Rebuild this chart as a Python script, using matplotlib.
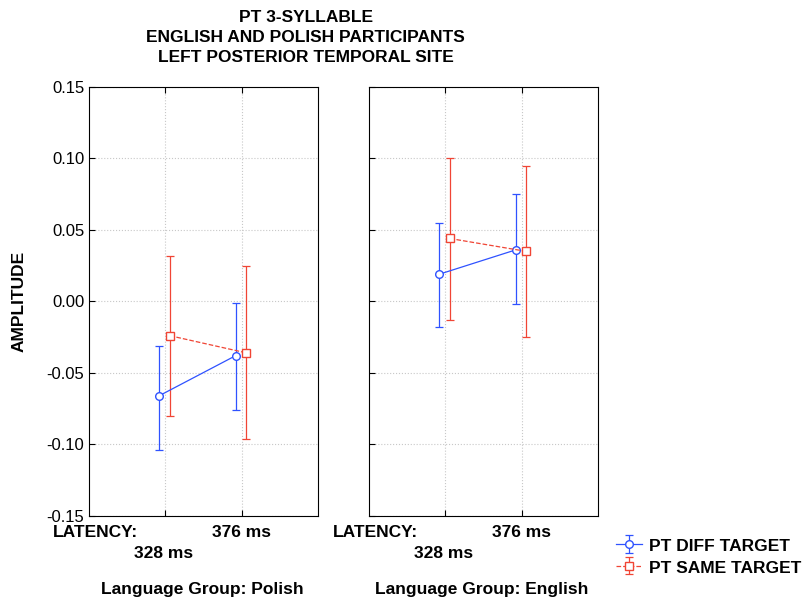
import numpy as np
import matplotlib
matplotlib.use('Agg')
from matplotlib import pyplot as plt

plt.rcParams['font.family'] = ['Liberation Sans', 'DejaVu Sans']

# data
latency = ['328 ms', '376 ms']
groups = ['Polish', 'English']

# mean, lower, upper per group, per latency
diff_mean = {'Polish': [-0.066, -0.038], 'English': [0.019, 0.036]}
diff_low = {'Polish': [-0.104, -0.076], 'English': [-0.018, -0.002]}
diff_high = {'Polish': [-0.031, -0.001], 'English': [0.055, 0.075]}

same_mean = {'Polish': [-0.024, -0.036], 'English': [0.044, 0.035]}
same_low = {'Polish': [-0.080, -0.096], 'English': [-0.013, -0.025]}
same_high = {'Polish': [0.032, 0.025], 'English': [0.100, 0.095]}

yticks = [0.15, 0.10, 0.05, 0.00, -0.05, -0.10, -0.15]

blue = '#2f52ff'
red = '#f04535'
fs = 12.5

fig = plt.figure(figsize=(8.07, 6.04), dpi=100)
fig.text(0.379, 0.984, 'PT 3-SYLLABLE\nENGLISH AND POLISH PARTICIPANTS\nLEFT POSTERIOR TEMPORAL SITE',
         ha='center', va='top', fontsize=fs, fontweight='bold', linespacing=1.45)

lefts = [89/807, 369/807]
handles = None
for i, g in enumerate(groups):
    ax = fig.add_axes([lefts[i], 0.146, 229/807, 0.710])
    x = np.array([1, 2])
    dm = np.array(diff_mean[g])
    sm = np.array(same_mean[g])
    h1 = ax.errorbar(x - 0.08, dm,
                     yerr=[dm - np.array(diff_low[g]), np.array(diff_high[g]) - dm],
                     color=blue, lw=0.9, marker='o', ms=5.5, mfc='white', mec=blue,
                     capsize=3, elinewidth=0.9, capthick=0.9, label='PT DIFF TARGET', zorder=3)
    h2 = ax.errorbar(x + 0.06, sm,
                     yerr=[sm - np.array(same_low[g]), np.array(same_high[g]) - sm],
                     color=red, lw=0.9, ls='--', marker='s', ms=5.5, mfc='white', mec=red,
                     capsize=3, elinewidth=0.9, capthick=0.9, label='PT SAME TARGET', zorder=3)
    h2[2][0].set_linestyle('-')
    handles = [h1, h2]
    ax.set_xlim(0, 3)
    ax.set_ylim(-0.15, 0.15)
    ax.set_yticks(yticks)
    ax.set_xticks([1, 2])
    ax.set_xticklabels([])
    ax.tick_params(direction='in', length=4, top=True, right=False, labelsize=12)
    ax.grid(True, color='#c8c8c8', ls=':', lw=0.8)
    if i == 0:
        ax.set_yticklabels(['%.2f' % t for t in yticks])
        ax.set_ylabel('AMPLITUDE', fontsize=fs, fontweight='bold', labelpad=14)
    else:
        ax.set_yticklabels([])
    for s in ax.spines.values():
        s.set_linewidth(0.8)
    tr = ax.get_xaxis_transform()
    ax.text(0.64, -0.04, 'LATENCY:', transform=tr, ha='right', va='center',
            fontsize=fs, fontweight='bold')
    ax.text(2, -0.04, latency[1], transform=tr, ha='center', va='center',
            fontsize=fs, fontweight='bold')
    ax.text(0.98, -0.087, latency[0], transform=tr, ha='center', va='center',
            fontsize=fs, fontweight='bold')
    ax.text(1.48, -0.172, 'Language Group: ' + g, transform=tr, ha='center', va='center',
            fontsize=fs, fontweight='bold')

leg = fig.legend(handles, [h.get_label() for h in handles], loc='center left',
                 bbox_to_anchor=(0.752, 0.079), frameon=False, fontsize=fs,
                 handlelength=1.5, handleheight=1.0, handletextpad=0.4,
                 labelspacing=0.3, borderpad=0)
for t in leg.get_texts():
    t.set_fontweight('bold')

fig.savefig('out.png', dpi=100)
